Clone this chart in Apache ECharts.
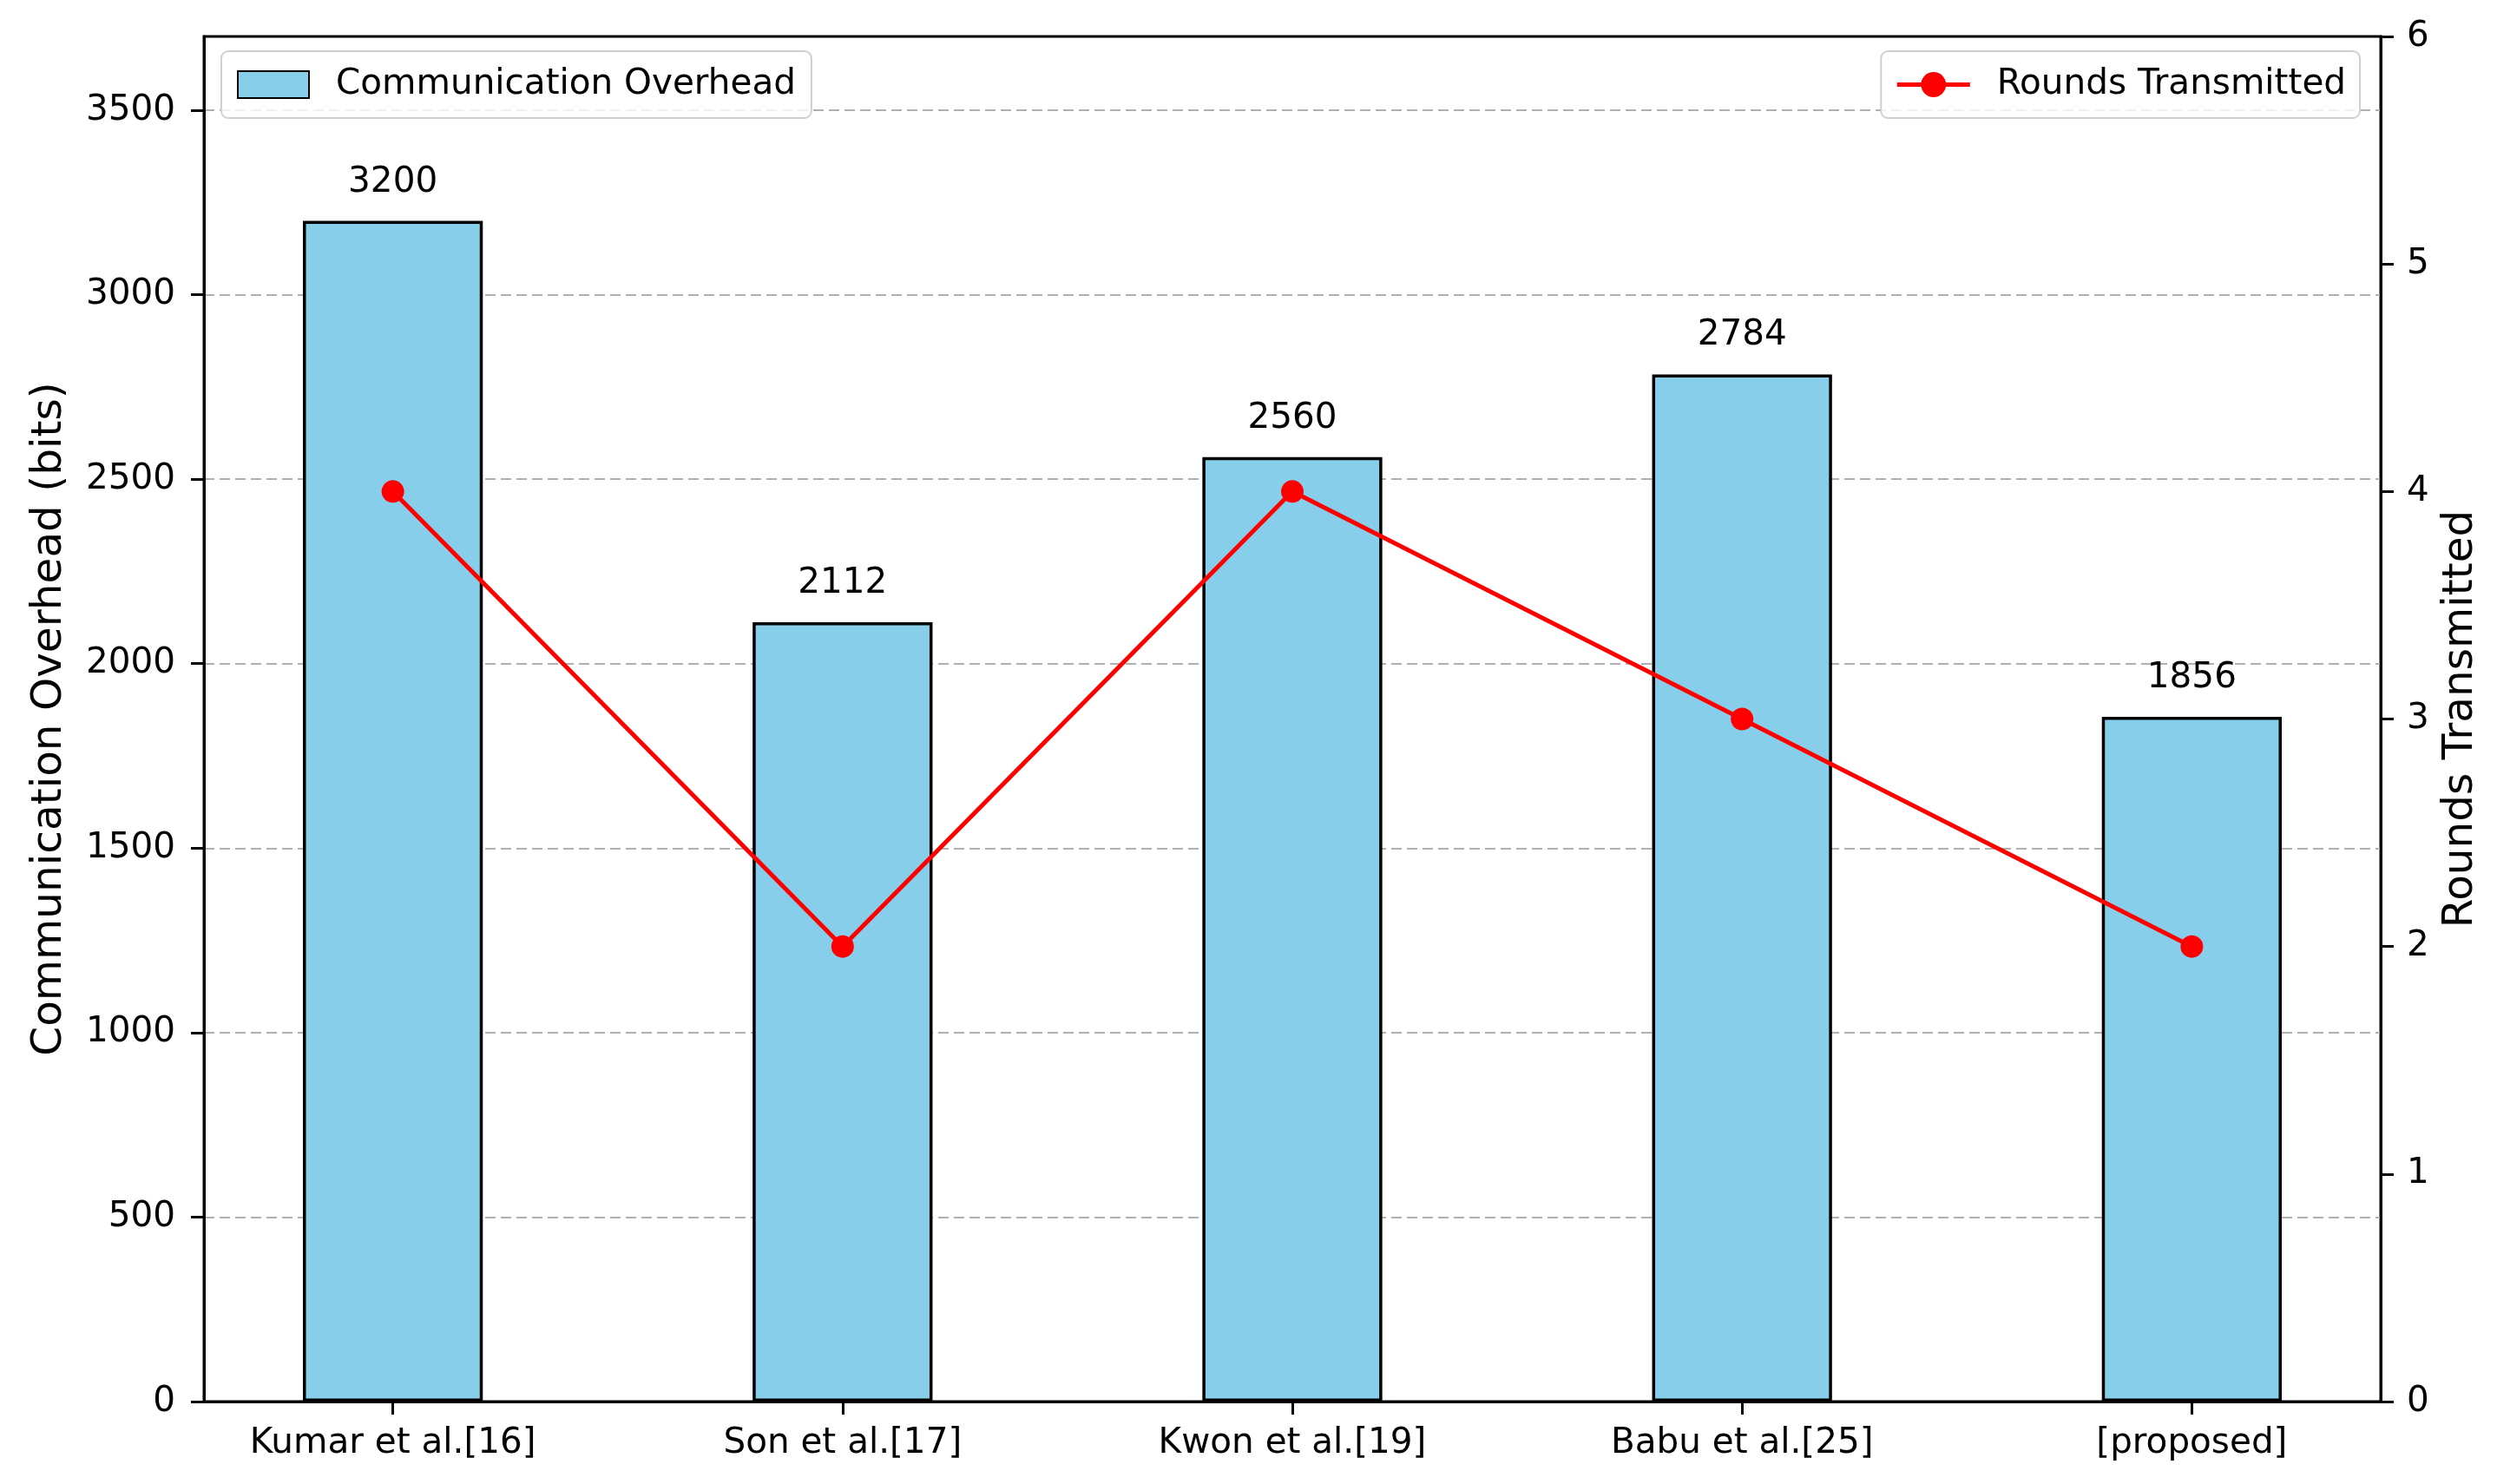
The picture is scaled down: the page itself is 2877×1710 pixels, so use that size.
<!DOCTYPE html>
<html>
<head>
<meta charset="utf-8">
<script src="https://cdn.jsdelivr.net/npm/echarts@6/dist/echarts.min.js"></script>
<style>html,body{margin:0;padding:0;background:#fff;}#c{width:2877px;height:1710px;}</style>
</head>
<body>
<div id="c"></div>
<script>
const categories = ['Kumar et al.[16]', 'Son et al.[17]', 'Kwon et al.[19]', 'Babu et al.[25]', '[proposed]'];
const overhead = [3200, 2112, 2560, 2784, 1856];
const rounds = [4, 2, 4, 3, 2];
const leftTicks = [0, 500, 1000, 1500, 2000, 2500, 3000, 3500];
const rightTicks = [0, 1, 2, 3, 4, 5, 6];
const xTicks = [0, 1, 2, 3, 4];

const F = 'DejaVu Sans';
const FS = 40.5;
const FT = 48.5;
const chart = echarts.init(document.getElementById('c'));
chart.setOption({
  animation: false,
  backgroundColor: '#fff',
  textStyle: {fontFamily: F},
  grid: {left: 235, right: 134, top: 42, bottom: 95, show: true, borderColor: '#000', borderWidth: 3, backgroundColor: 'transparent'},
  legend: [
    {data: ['Communication Overhead'], left: 255, top: 59, padding: [18, 18, 18, 18], itemWidth: 82, itemHeight: 31,
     textStyle: {fontFamily: F, fontSize: FS, color: '#000', padding: [0, 0, 0, 26]},
     backgroundColor: 'rgba(255,255,255,0.8)', borderColor: '#d0d0d0', borderWidth: 2, borderRadius: 8, icon: 'rect'},
    {data: ['Rounds Transmitted'], right: 158, top: 59, padding: [18, 16, 18, 16], itemWidth: 84, itemHeight: 36,
     textStyle: {fontFamily: F, fontSize: FS, color: '#000', padding: [0, 0, 0, 26]},
     lineStyle: {width: 5, color: '#ff0000'},
     backgroundColor: 'rgba(255,255,255,0.8)', borderColor: '#d0d0d0', borderWidth: 2, borderRadius: 8}
  ],
  xAxis: {
    type: 'value', min: -0.42, max: 4.42,
    axisLine: {show: true, onZero: false, lineStyle: {color: '#000', width: 3}},
    axisTick: {show: true, length: 15, lineStyle: {color: '#000', width: 3}, customValues: xTicks},
    axisLabel: {customValues: xTicks, formatter: v => categories[Math.round(v)], fontFamily: F, fontSize: FS, color: '#000', margin: 28},
    splitLine: {show: false}
  },
  yAxis: [
    {type: 'value', min: 0, max: 3700, position: 'left',
     name: 'Communication Overhead (bits)', nameLocation: 'middle', nameGap: 153, nameRotate: 90,
     nameTextStyle: {fontFamily: F, fontSize: FT, color: '#000'},
     axisLine: {show: true, onZero: false, lineStyle: {color: '#000', width: 3}},
     axisTick: {show: true, length: 15, lineStyle: {color: '#000', width: 3}, customValues: leftTicks},
     axisLabel: {customValues: leftTicks, formatter: v => String(v), fontFamily: F, fontSize: FS, color: '#000', margin: 33},
     splitLine: {show: true, lineStyle: {color: '#b0b0b0', width: 2, type: [12, 6]}}
    },
    {type: 'value', min: 0, max: 6, interval: 1, position: 'right',
     name: 'Rounds Transmitted', nameLocation: 'middle', nameGap: 68, nameRotate: 90,
     nameTextStyle: {fontFamily: F, fontSize: FT, color: '#000'},
     axisLine: {show: true, onZero: false, lineStyle: {color: '#000', width: 3}},
     axisTick: {show: true, length: 15, lineStyle: {color: '#000', width: 3}},
     axisLabel: {fontFamily: F, fontSize: FS, color: '#000', margin: 30},
     splitLine: {show: false}
    }
  ],
  series: [
    {name: 'Communication Overhead', type: 'bar', yAxisIndex: 0, barWidth: '40%',
     data: overhead.map((v, i) => [i, v]),
     itemStyle: {color: '#87CEEB', borderColor: '#000', borderWidth: 3.5},
     label: {show: true, position: 'top', distance: 24, fontFamily: F, fontSize: FS, color: '#000', formatter: p => p.value[1]},
     z: 2},
    {name: 'Rounds Transmitted', type: 'line', yAxisIndex: 1,
     data: rounds.map((v, i) => [i, v]),
     symbol: 'circle', symbolSize: 26,
     lineStyle: {color: '#ff0000', width: 5}, itemStyle: {color: '#ff0000'}, z: 5}
  ]
});
</script>
</body>
</html>
